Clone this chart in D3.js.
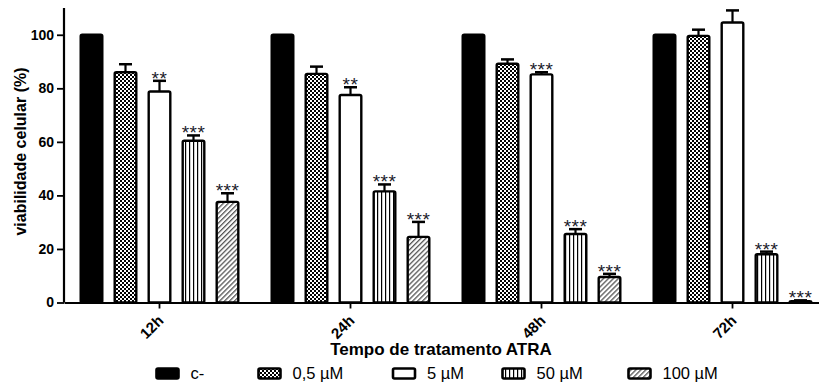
<!DOCTYPE html>
<html>
<head>
<meta charset="utf-8">
<script src="https://cdn.jsdelivr.net/npm/d3@7"></script>
<style>
  body { margin: 0; background: #fff; }
  svg { display: block; }
  text { font-family: "Liberation Sans", Arial, Helvetica, sans-serif; }
</style>
</head>
<body>
<svg id="chart" width="819" height="382"></svg>
<script>
// Treatment times (x groups) and ATRA concentrations (series)
const categories = ["12h", "24h", "48h", "72h"];
const seriesNames = ["c-", "0,5 µM", "5 µM", "50 µM", "100 µM"];

// Cell viability (%) per concentration, one value per treatment time
const controlValues = [100, 100, 100, 100];
const dose05Values  = [86.0, 85.4, 89.2, 99.6];
const dose5Values   = [78.8, 77.5, 85.2, 104.6];
const dose50Values  = [60.4, 41.5, 25.6, 18.0];
const dose100Values = [37.6, 24.5, 9.5, 0.5];

// Standard error (upper bar only)
const controlErr = [0, 0, 0, 0];
const dose05Err  = [3.0, 2.7, 1.6, 2.3];
const dose5Err   = [4.0, 2.9, 0.8, 4.5];
const dose50Err  = [2.0, 2.6, 1.8, 1.0];
const dose100Err = [3.2, 5.6, 1.2, 0.3];

// Significance marks vs. control
const controlSig = ["", "", "", ""];
const dose05Sig  = ["", "", "", ""];
const dose5Sig   = ["**", "**", "***", ""];
const dose50Sig  = ["***", "***", "***", "***"];
const dose100Sig = ["***", "***", "***", "***"];

const yTicks = [0, 20, 40, 60, 80, 100];

const seriesValues = [controlValues, dose05Values, dose5Values, dose50Values, dose100Values];
const seriesErrors = [controlErr, dose05Err, dose5Err, dose50Err, dose100Err];
const seriesSig = [controlSig, dose05Sig, dose5Sig, dose50Sig, dose100Sig];

const svg = d3.select("#chart");
const defs = svg.append("defs");

// Fill patterns
const chk = defs.append("pattern").attr("id", "pat-check")
  .attr("patternUnits", "userSpaceOnUse").attr("width", 4).attr("height", 4);
chk.append("rect").attr("width", 4).attr("height", 4).attr("fill", "#fff");
chk.append("rect").attr("x", 0).attr("y", 0).attr("width", 2).attr("height", 2).attr("fill", "#000");
chk.append("rect").attr("x", 2).attr("y", 2).attr("width", 2).attr("height", 2).attr("fill", "#000");

const vert = defs.append("pattern").attr("id", "pat-vert")
  .attr("patternUnits", "userSpaceOnUse").attr("width", 4).attr("height", 4);
vert.append("rect").attr("width", 4).attr("height", 4).attr("fill", "#fff");
vert.append("rect").attr("x", 1).attr("width", 1.2).attr("height", 4).attr("fill", "#000");

const diag = defs.append("pattern").attr("id", "pat-diag")
  .attr("patternUnits", "userSpaceOnUse").attr("width", 3.5).attr("height", 3.5)
  .attr("patternTransform", "rotate(45)");
diag.append("rect").attr("width", 3.5).attr("height", 3.5).attr("fill", "#fff");
diag.append("rect").attr("x", 0).attr("width", 1.3).attr("height", 3.5).attr("fill", "#555");

const fills = ["#000", "url(#pat-check)", "#fff", "url(#pat-vert)", "url(#pat-diag)"];

// Scales
const x0 = d3.scaleBand().domain(categories).range([64, 828]).padding(0);
const x1 = d3.scaleBand().domain(d3.range(seriesNames.length))
  .range([-85, 85]).paddingInner(0.294).paddingOuter(0.147);
const y = d3.scaleLinear().domain([0, 110]).range([302.5, 8]);

// Bars
const bars = [];
categories.forEach((c, ci) => {
  seriesNames.forEach((s, si) => {
    bars.push({ cat: c, si, v: seriesValues[si][ci], e: seriesErrors[si][ci], sig: seriesSig[si][ci] });
  });
});

const cx = d => x0(d.cat) + x0.bandwidth() / 2;
const g = svg.append("g");

// error bars (upper half)
g.selectAll(".err").data(bars.filter(d => d.e > 0)).join("g").attr("class", "err")
  .each(function(d) {
    const xc = cx(d) + x1(d.si) + x1.bandwidth() / 2;
    const sel = d3.select(this);
    sel.append("line").attr("x1", xc).attr("x2", xc).attr("y1", y(d.v)).attr("y2", y(d.v + d.e))
      .attr("stroke", "#000").attr("stroke-width", 2.2);
    sel.append("line").attr("x1", xc - 6.5).attr("x2", xc + 6.5).attr("y1", y(d.v + d.e)).attr("y2", y(d.v + d.e))
      .attr("stroke", "#000").attr("stroke-width", 2.5);
  });

g.selectAll(".bar").data(bars).join("rect").attr("class", "bar")
  .attr("x", d => cx(d) + x1(d.si) + 1.2)
  .attr("width", x1.bandwidth() - 2.4)
  .attr("y", d => y(d.v))
  .attr("height", d => Math.max(0.5, y(0) - y(d.v)))
  .attr("rx", 1.5)
  .attr("fill", d => fills[d.si])
  .attr("stroke", "#000")
  .attr("stroke-width", 2.4);

// significance asterisks
g.selectAll(".sig").data(bars.filter(d => d.sig)).join("text").attr("class", "sig")
  .attr("x", d => cx(d) + x1(d.si) + x1.bandwidth() / 2)
  .attr("y", d => y(d.v + d.e) + 4)
  .attr("text-anchor", "middle")
  .attr("font-size", 19)
  .attr("letter-spacing", 0.5)
  .attr("fill", "#1a1a2a")
  .text(d => d.sig);

// Y axis
const yAxis = svg.append("g").attr("transform", "translate(64,0)")
  .call(d3.axisLeft(y).tickValues(yTicks).tickSize(7).tickPadding(3));
yAxis.select(".domain").attr("d", `M0,${y(0)}V8`).attr("stroke-width", 2.2);
yAxis.selectAll(".tick line").attr("stroke-width", 1.8);
yAxis.selectAll(".tick text").attr("font-size", 14).attr("font-weight", "bold")
  .attr("font-family", "'Liberation Sans', Arial, sans-serif").attr("fill", "#000");

// X axis
const xAxis = svg.append("g").attr("transform", `translate(0,${y(0)})`)
  .call(d3.axisBottom(x0).tickSize(6).tickSizeOuter(0));
xAxis.select(".domain").attr("stroke-width", 2.2);
xAxis.selectAll(".tick line").attr("stroke-width", 1.8);
xAxis.selectAll(".tick text")
  .attr("font-size", 15).attr("font-weight", "bold")
  .attr("font-family", "'Liberation Sans', Arial, sans-serif").attr("fill", "#000")
  .attr("text-anchor", "end")
  .attr("dy", null)
  .attr("y", 0)
  .attr("transform", "translate(5,19) rotate(-45)");

// Axis titles
svg.append("text").attr("x", 441).attr("y", 355)
  .attr("text-anchor", "middle").attr("font-size", 17).attr("font-weight", "bold")
  .text("Tempo de tratamento ATRA");

svg.append("text").attr("transform", "translate(26,151.5) rotate(-90)")
  .attr("text-anchor", "middle").attr("font-size", 16).attr("font-weight", "bold")
  .text("viabilidade celular (%)");

// Legend
const legendX = [156.5, 258.5, 393, 502.5, 628.5];
const legend = svg.append("g");
seriesNames.forEach((s, i) => {
  legend.append("rect").attr("x", legendX[i]).attr("y", 368.5)
    .attr("width", 22).attr("height", 10).attr("rx", 1.5)
    .attr("fill", fills[i]).attr("stroke", "#000").attr("stroke-width", 2.6);
  legend.append("text").attr("x", legendX[i] + 34).attr("y", 378.5)
    .attr("font-size", 16.5).attr("fill", "#000").text(s);
});
</script>
</body>
</html>
